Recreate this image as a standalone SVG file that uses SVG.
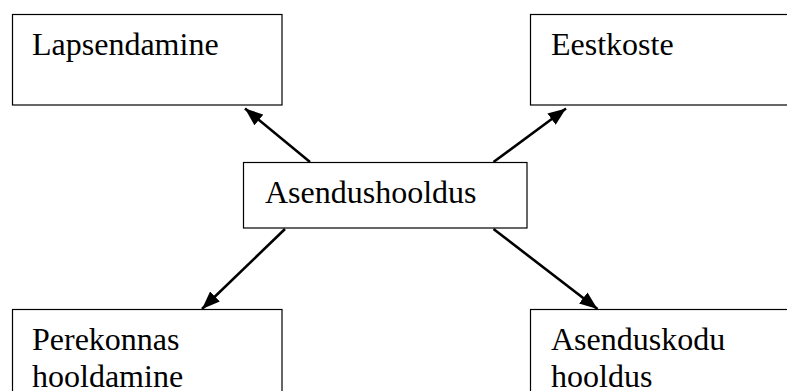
<svg xmlns="http://www.w3.org/2000/svg" width="787" height="391" viewBox="0 0 787 391">
<style>
.box{fill:#fff;stroke:#000;stroke-width:1.2}
.t{font-family:"Liberation Serif","Times New Roman",serif;font-size:32px;fill:#000}
.c{stroke:#000;stroke-width:2.6;fill:none}
</style>
<defs>
<marker id="ah" viewBox="0 0 18 14" refX="18" refY="7" markerWidth="18" markerHeight="14" markerUnits="userSpaceOnUse" orient="auto">
<path d="M0,0 L18,7 L0,14 Z" fill="#000"/>
</marker>
</defs>
<rect width="787" height="391" fill="#fff"/>
<g id="lapsendamine">
<rect class="box" x="12.5" y="14.5" width="269.5" height="90.5"/>
<text class="t" x="32" y="55">Lapsendamine</text>
</g>
<g id="eestkoste">
<rect class="box" x="530.5" y="14.5" width="270" height="90.5"/>
<text class="t" x="551" y="55">Eestkoste</text>
</g>
<g id="asendushooldus">
<rect class="box" x="243.5" y="162.5" width="283.5" height="65.5"/>
<text class="t" x="265" y="203">Asendushooldus</text>
</g>
<g id="perekonnas">
<rect class="box" x="12.5" y="309.5" width="269.5" height="100"/>
<text class="t" x="32" y="350">Perekonnas</text>
<text class="t" x="32" y="387">hooldamine</text>
</g>
<g id="asenduskodu">
<rect class="box" x="530.5" y="309.5" width="270" height="100"/>
<text class="t" x="551" y="350">Asenduskodu</text>
<text class="t" x="551" y="387">hooldus</text>
</g>
<g id="connectors">
<line class="c" x1="310" y1="162" x2="245" y2="108.5" marker-end="url(#ah)"/>
<line class="c" x1="493.5" y1="162" x2="566" y2="108.5" marker-end="url(#ah)"/>
<line class="c" x1="285" y1="229" x2="202" y2="309" marker-end="url(#ah)"/>
<line class="c" x1="493.5" y1="229" x2="597.5" y2="309" marker-end="url(#ah)"/>
</g>
</svg>
